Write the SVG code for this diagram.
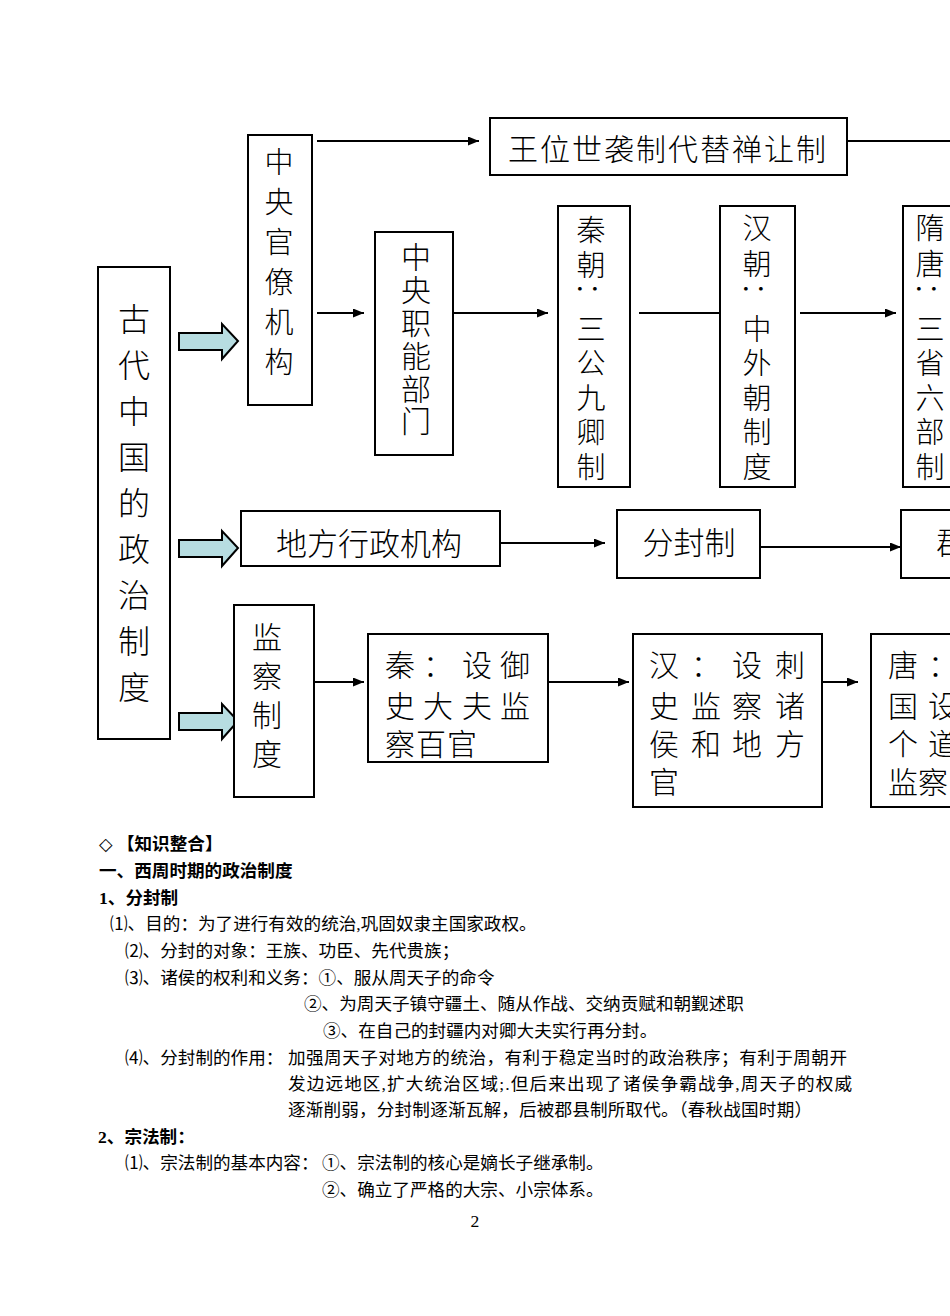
<svg xmlns="http://www.w3.org/2000/svg" width="950" height="1316" viewBox="0 0 950 1316">
<style>
.box{fill:#fff;stroke:#000;stroke-width:2}
.bar{fill:#b7dde1;stroke:#000;stroke-width:2;stroke-linejoin:miter}
.t{font-family:"Noto Sans CJK SC",sans-serif;font-weight:300;fill:#000;text-anchor:middle;dominant-baseline:central}
.t29{font-size:29px}
.t30{font-size:30px}
.t31{font-size:31px}
.t32{font-size:32px}
.b{font-family:"Liberation Serif","Noto Sans CJK SC",serif;font-size:17.6px;fill:#000}
.bb{font-weight:bold}
.dia{font-family:"DejaVu Sans",sans-serif;font-weight:normal}
.conn line{stroke:#000;stroke-width:2}
</style>
<defs>
<marker id="ah" markerUnits="userSpaceOnUse" markerWidth="11" markerHeight="9" refX="11" refY="4.5" orient="auto">
<path d="M0,0 L11,4.5 L0,9 z" fill="#000"/>
</marker>
</defs>
<rect width="950" height="1316" fill="#fff"/>

<g id="connectors" class="conn">
<line x1="317" y1="141" x2="479" y2="141" marker-end="url(#ah)" stroke-width="2.5"/>
<line x1="847" y1="141" x2="950" y2="141" stroke-width="2.5"/>
<line x1="317" y1="313" x2="364" y2="313" marker-end="url(#ah)"/>
<line x1="454" y1="313" x2="548" y2="313" marker-end="url(#ah)"/>
<line x1="639" y1="313" x2="733" y2="313" marker-end="url(#ah)"/>
<line x1="800" y1="313" x2="896" y2="313" marker-end="url(#ah)"/>
<line x1="500" y1="543" x2="605" y2="543" marker-end="url(#ah)"/>
<line x1="760" y1="547" x2="901" y2="547" marker-end="url(#ah)"/>
<line x1="314" y1="682" x2="364" y2="682" marker-end="url(#ah)"/>
<line x1="548" y1="682" x2="629" y2="682" marker-end="url(#ah)"/>
<line x1="822" y1="682" x2="858" y2="682" marker-end="url(#ah)"/>
<polygon class="bar" points="179,333 222,333 222,324 238,341 222,359 222,350 179,350"/>
<polygon class="bar" points="179,540 222,540 222,531 238,548 222,566 222,557 179,557"/>
<polygon class="bar" points="179,713 222,713 222,704 238,721 222,739 222,730 179,730"/>
</g>

<g id="node-main">
<rect class="box" x="98" y="267" width="72" height="472"/>
<text class="t t32"><tspan x="134" y="317">古</tspan><tspan x="134" y="363">代</tspan><tspan x="134" y="409">中</tspan><tspan x="134" y="455">国</tspan><tspan x="134" y="501">的</tspan><tspan x="134" y="547">政</tspan><tspan x="134" y="593">治</tspan><tspan x="134" y="639">制</tspan><tspan x="134" y="685">度</tspan></text>
</g>

<g id="node-central">
<rect class="box" x="248" y="135" width="64" height="270"/>
<text class="t t29"><tspan x="279" y="160">中</tspan><tspan x="279" y="200">央</tspan><tspan x="279" y="240">官</tspan><tspan x="279" y="280">僚</tspan><tspan x="279" y="320">机</tspan><tspan x="279" y="360">构</tspan></text>
</g>

<g id="node-succession">
<rect class="box" x="490" y="118" width="357" height="57"/>
<text class="t t30" x="667" y="147" textLength="318" lengthAdjust="spacing">王位世袭制代替禅让制</text>
</g>

<g id="node-departments">
<rect class="box" x="375" y="232" width="78" height="223"/>
<text class="t t30"><tspan x="416" y="255">中</tspan><tspan x="416" y="288">央</tspan><tspan x="416" y="321">职</tspan><tspan x="416" y="354">能</tspan><tspan x="416" y="387">部</tspan><tspan x="416" y="419">门</tspan></text>
</g>

<g id="node-qin">
<rect class="box" x="558" y="206" width="72" height="281"/>
<text class="t t29"><tspan x="591" y="228">秦</tspan><tspan x="591" y="263">朝</tspan><tspan x="591" y="327">三</tspan><tspan x="591" y="361">公</tspan><tspan x="591" y="396">九</tspan><tspan x="591" y="430">卿</tspan><tspan x="591" y="465">制</tspan></text>
<text class="t t29" x="591" y="296" transform="rotate(90 591 296)">：</text>
</g>

<g id="node-han">
<rect class="box" x="720" y="206" width="75" height="281"/>
<text class="t t29"><tspan x="757" y="226">汉</tspan><tspan x="757" y="262">朝</tspan><tspan x="757" y="327">中</tspan><tspan x="757" y="361">外</tspan><tspan x="757" y="396">朝</tspan><tspan x="757" y="430">制</tspan><tspan x="757" y="465">度</tspan></text>
<text class="t t29" x="757" y="296" transform="rotate(90 757 296)">：</text>
</g>

<g id="node-suitang">
<rect class="box" x="903" y="206" width="60" height="281"/>
<text class="t t29"><tspan x="930" y="226">隋</tspan><tspan x="930" y="262">唐</tspan><tspan x="930" y="327">三</tspan><tspan x="930" y="361">省</tspan><tspan x="930" y="396">六</tspan><tspan x="930" y="430">部</tspan><tspan x="930" y="465">制</tspan></text>
<text class="t t29" x="930" y="296" transform="rotate(90 930 296)">：</text>
</g>

<g id="node-local">
<rect class="box" x="241" y="511" width="259" height="55"/>
<text class="t t31" x="369" y="541">地方行政机构</text>
</g>

<g id="node-fenfeng">
<rect class="box" x="617" y="510" width="143" height="68"/>
<text class="t t31" x="689" y="540">分封制</text>
</g>

<g id="node-junxian">
<rect class="box" x="901" y="510" width="60" height="68"/>
<text class="t t31" x="952" y="540">郡</text>
</g>

<g id="node-supervision">
<rect class="box" x="234" y="605" width="80" height="192"/>
<text class="t t30"><tspan x="267" y="635">监</tspan><tspan x="267" y="674">察</tspan><tspan x="267" y="713">制</tspan><tspan x="267" y="752">度</tspan></text>
</g>

<g id="node-qin-sup">
<rect class="box" x="368" y="634" width="180" height="128"/>
<text class="t t30"><tspan x="400" y="663">秦</tspan><tspan x="438" y="663">：</tspan><tspan x="477" y="663">设</tspan><tspan x="515" y="663">御</tspan><tspan x="400" y="704">史</tspan><tspan x="438" y="704">大</tspan><tspan x="477" y="704">夫</tspan><tspan x="515" y="704">监</tspan><tspan x="400" y="742">察</tspan><tspan x="431" y="742">百</tspan><tspan x="462" y="742">官</tspan></text>
</g>

<g id="node-han-sup">
<rect class="box" x="633" y="634" width="189" height="173"/>
<text class="t t30"><tspan x="664" y="663">汉</tspan><tspan x="706" y="663">：</tspan><tspan x="747" y="663">设</tspan><tspan x="790" y="663">刺</tspan><tspan x="664" y="704">史</tspan><tspan x="706" y="704">监</tspan><tspan x="747" y="704">察</tspan><tspan x="790" y="704">诸</tspan><tspan x="664" y="742">侯</tspan><tspan x="706" y="742">和</tspan><tspan x="747" y="742">地</tspan><tspan x="790" y="742">方</tspan><tspan x="664" y="780">官</tspan></text>
</g>

<g id="node-tang-sup">
<rect class="box" x="871" y="634" width="90" height="173"/>
<text class="t t30"><tspan x="903" y="663">唐</tspan><tspan x="943" y="663">：</tspan><tspan x="903" y="704">国</tspan><tspan x="943" y="704">设</tspan><tspan x="903" y="742">个</tspan><tspan x="943" y="742">道</tspan><tspan x="903" y="780">监</tspan><tspan x="933" y="780">察</tspan></text>
</g>

<g id="notes">
<text class="b bb" x="99" y="850"><tspan class="dia">◇</tspan> 【知识整合】</text>
<text class="b bb" x="99" y="877">一、西周时期的政治制度</text>
<text class="b bb" x="99" y="904">1、分封制</text>
<text class="b" x="110" y="930">⑴、目的：为了进行有效的统治,巩固奴隶主国家政权。</text>
<text class="b" x="125" y="957">⑵、分封的对象：王族、功臣、先代贵族；</text>
<text class="b" x="125" y="984">⑶、诸侯的权利和义务：①、服从周天子的命令</text>
<text class="b" x="304" y="1010">②、为周天子镇守疆土、随从作战、交纳贡赋和朝觐述职</text>
<text class="b" x="323" y="1037">③、在自己的封疆内对卿大夫实行再分封。</text>
<text class="b" x="125" y="1064">⑷、分封制的作用：</text>
<text class="b" x="288" y="1064" textLength="559" lengthAdjust="spacing">加强周天子对地方的统治，有利于稳定当时的政治秩序；有利于周朝开</text>
<text class="b" x="288" y="1090" textLength="564" lengthAdjust="spacing">发边远地区,扩大统治区域;.但后来出现了诸侯争霸战争,周天子的权威</text>
<text class="b" x="288" y="1116" textLength="524" lengthAdjust="spacing">逐渐削弱，分封制逐渐瓦解，后被郡县制所取代。（春秋战国时期）</text>
<text class="b bb" x="98" y="1143">2、宗法制：</text>
<text class="b" x="125" y="1169">⑴、宗法制的基本内容：</text>
<text class="b" x="322" y="1169">①、宗法制的核心是嫡长子继承制。</text>
<text class="b" x="322" y="1196">②、确立了严格的大宗、小宗体系。</text>
<text class="b" x="475" y="1227" text-anchor="middle" font-size="16">2</text>
</g>
</svg>
